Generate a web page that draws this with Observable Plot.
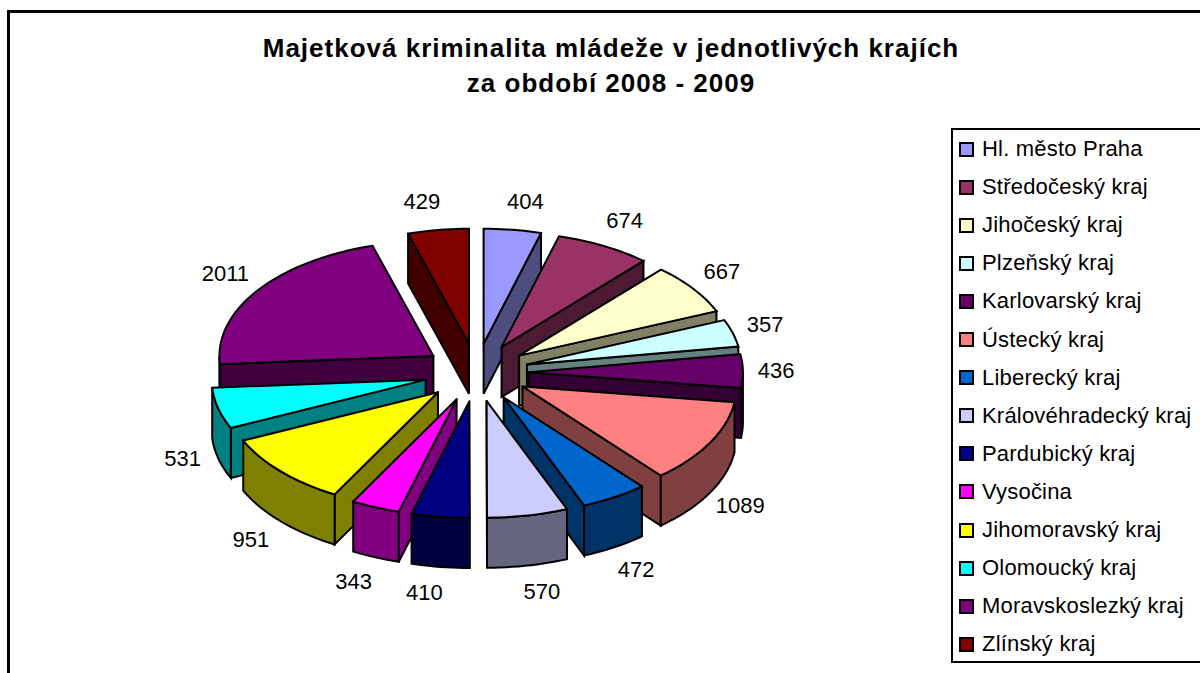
<!DOCTYPE html>
<html>
<head>
<meta charset="utf-8">
<script src="https://cdn.jsdelivr.net/npm/d3@7"></script>
<script src="https://cdn.jsdelivr.net/npm/@observablehq/plot@0.6"></script>
<style>
html,body{margin:0;padding:0;background:#fff;width:1200px;height:673px;overflow:hidden}
#page{position:relative;width:1200px;height:673px;overflow:hidden;font-family:"Liberation Sans",Arial,sans-serif;color:#000}
#frame{position:absolute;left:7px;top:10px;width:1300px;height:800px;border:3px solid #000;box-sizing:border-box}
#title{position:absolute;left:11px;width:1200px;top:31px;text-align:center;font-weight:bold;font-size:26px;line-height:35px;letter-spacing:1px}
#chart{position:absolute;left:0;top:0}
#legend{position:absolute;left:951px;top:128px;width:300px;height:535px;border:2px solid #000;box-sizing:border-box;background:#fff;font-size:22px;letter-spacing:.2px}
.row{position:absolute;left:6px;display:flex;align-items:center;height:30px;white-space:nowrap}
.sw{width:11px;height:11px;border:2px solid #000;margin-right:8px;flex:none}
</style>
</head>
<body>
<div id="page">
<div id="frame"></div>
<div id="title">Majetková kriminalita mládeže v jednotlivých krajích<br>za období 2008 - 2009</div>
<div id="chart"></div>
<div id="legend"></div>
</div>
<script>
const regions = ["Hl. město Praha","Středočeský kraj","Jihočeský kraj","Plzeňský kraj","Karlovarský kraj","Ústecký kraj","Liberecký kraj","Královéhradecký kraj","Pardubický kraj","Vysočina","Jihomoravský kraj","Olomoucký kraj","Moravskoslezký kraj","Zlínský kraj"];
const values = [404,674,667,357,436,1089,472,570,410,343,951,531,2011,429];
const colors = ["#9999FF","#993366","#FFFFCC","#CCFFFF","#660066","#FF8080","#0066CC","#CCCCFF","#000080","#FF00FF","#FFFF00","#00FFFF","#800080","#800000"];
const explodeX = 0.245, explodeY = 0.252, depth = 0.435, frontBulge = 1.015;

const pieArcs = d3.pie().sort(null)(values);
const toRad = d => d * Math.PI / 180;
const dark = c => { const k = d3.rgb(c); return d3.rgb(k.r * .5, k.g * .5, k.b * .5).formatHex(); };
const polys = [];
const add = (id, fill, pts) => { pts.concat([pts[0]]).forEach(p => polys.push({id, fill, x: p[0], y: p[1]})); };

const slices = pieArcs.map((a, i) => {
  const mid = (a.startAngle + a.endAngle) / 2;
  return {i, a0: a.startAngle, a1: a.endAngle, mid,
    ex: Math.sin(mid) * explodeX, ey: Math.cos(mid) * explodeY};
});
const arcPts = (s, from, to) => {
  const n = Math.max(2, Math.ceil((to - from) / 0.03));
  return d3.range(n + 1).map(k => {
    const t = from + (to - from) * k / n, c = Math.cos(t);
    return [s.ex + Math.sin(t), s.ey + c * (c < 0 ? frontBulge : 1)];
  });
};
const down = p => [p[0], p[1] - depth];

[...slices].sort((p, q) => Math.cos(q.mid) - Math.cos(p.mid)).forEach(s => {
  const c = colors[s.i], w = dark(c), apex = [s.ex, s.ey];
  const full = arcPts(s, s.a0, s.a1);
  if (s.a0 > Math.PI + 1e-3) {
    const e = full[0];
    add(`w0-${s.i}`, w, [apex, e, down(e), down(apex)]);
  }
  if (s.a1 < Math.PI - 1e-3) {
    const e = full[full.length - 1];
    add(`w1-${s.i}`, w, [apex, e, down(e), down(apex)]);
  }
  const lo = Math.max(s.a0, toRad(90)), hi = Math.min(s.a1, toRad(270));
  if (hi > lo) {
    const rim = arcPts(s, lo, hi);
    add(`r-${s.i}`, w, rim.concat(rim.map(down).reverse()));
  }
  add(`t-${s.i}`, c, [apex].concat(full));
});

const labels = slices.map(s => {
  const sn = Math.sin(s.mid), cs = Math.cos(s.mid);
  return {text: String(values[s.i]),
    x: 1.355 * sn + (sn > 0 ? 0.045 : -0.06),
    y: 1.5 * cs - (cs < 0 ? depth * Math.min(1, -cs * 3.6) : 0)};
});

const plot = Plot.plot({
  width: 1200, height: 673, margin: 0,
  style: {background: "transparent", overflow: "visible"},
  x: {domain: [-1, 1], range: [262, 690], axis: null},
  y: {domain: [-1, 1], range: [487, 257], axis: null},
  color: {type: "identity"},
  marks: [
    Plot.line(polys, {x: "x", y: "y", z: "id", fill: "fill", stroke: "#000", strokeWidth: 2,
      strokeLinejoin: "miter", strokeMiterlimit: 4, curve: "linear"}),
    Plot.text(labels, {x: "x", y: "y", text: "text", fontSize: 22, fill: "#000",
      fontFamily: "'Liberation Sans', Arial, sans-serif", textAnchor: "middle", lineAnchor: "middle"})
  ]
});
document.getElementById("chart").appendChild(plot);

const legend = document.getElementById("legend");
regions.forEach((r, i) => {
  const row = document.createElement("div");
  row.className = "row";
  row.style.top = (4 + i * 38.1) + "px";
  const sw = document.createElement("span");
  sw.className = "sw";
  sw.style.background = colors[i];
  const t = document.createElement("span");
  t.textContent = r;
  row.append(sw, t);
  legend.appendChild(row);
});
</script>
</body>
</html>
